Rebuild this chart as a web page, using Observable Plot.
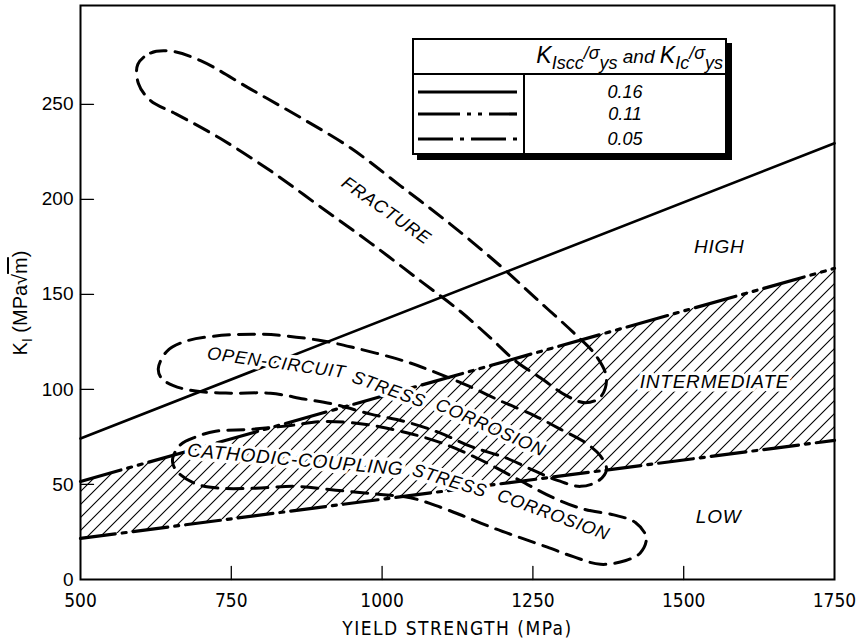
<!DOCTYPE html>
<html>
<head>
<meta charset="utf-8">
<script src="https://cdn.jsdelivr.net/npm/d3@7"></script>
<script src="https://cdn.jsdelivr.net/npm/@observablehq/plot@0.6"></script>
<style>
  html, body { margin: 0; padding: 0; background: #fff; }
  #wrap { position: relative; width: 858px; height: 638px; overflow: hidden; }
  #wrap svg { display: block; }
  g[aria-label="x-axis tick label"] text, g[aria-label="x-axis label"] text { font-stretch: condensed; }
  g[aria-label="x-axis label"] text { letter-spacing: 1.5px; }
  .lbl text { letter-spacing: 0.8px; }
  #legend { position: absolute; left: 412px; top: 38px; width: 315px; height: 117px; box-sizing: border-box;
            border: 2px solid #000; box-shadow: 5px 5px 0 #000; background: #fff;
            font-family: "Liberation Sans", Arial, Helvetica, sans-serif; color: #000; }
  #legend .hdr { position: absolute; right: 2px; top: 2px; font-style: italic; font-size: 23px; white-space: nowrap; }
  #legend .hdr .s { font-size: 18px; position: relative; top: 6px; }
  #legend .hdr .f { font-size: 18px; position: relative; top: -4px; }
  #legend .hdr .a { font-size: 19px; }
  #legend .sep { position: absolute; left: 0; right: 0; top: 33px; height: 2px; background: #000; }
  #legend .div { position: absolute; left: 109px; top: 35px; bottom: 0; width: 2px; background: #000; }
  #legend .row { position: absolute; left: 0; right: 0; height: 22px; }
  #legend .row svg { position: absolute; left: 4px; top: 5px; }
  #legend .row span { position: absolute; left: 111px; right: 0; text-align: center; top: 0; font-style: italic; font-size: 18px; line-height: 22px; }
</style>
</head>
<body>
<div id="wrap"></div>
<script>
// ---------- data ----------
const xDomain = [500, 1750];
const yDomain = [0, 302];
const xTicks = [500, 750, 1000, 1250, 1500, 1750];
const yTicks = [0, 50, 100, 150, 200, 250];

const ratioLabels = ["0.16", "0.11", "0.05"];

// straight boundary lines (yield strength -> K_I)
const lineX = [500, 1750];
const line016 = [74.2, 229.5];
const line011 = [51.6, 163.7];
const line005 = [21.6, 73.2];

// dashed regions (closed curves)
const fractureX = [595, 616, 649, 699, 782, 865, 948, 1031, 1113, 1196, 1258, 1317, 1354, 1372, 1362, 1337, 1304, 1263, 1221, 1180, 1130, 1064, 981, 898, 815, 732, 658, 616, 596];
const fractureY = [271, 277, 278, 273, 258, 243, 227, 207, 187, 165, 147, 130, 118, 106, 96, 93, 97, 106, 115, 127, 141, 157, 177, 196, 215, 232, 245, 252, 261];

const openX = [629, 643, 671, 721, 803, 893, 953, 1036, 1080, 1142, 1196, 1254, 1296, 1337, 1362, 1372, 1359, 1329, 1292, 1254, 1205, 1147, 1097, 1039, 981, 923, 870, 815, 749, 694, 654, 634];
const openY = [111, 120, 125, 128, 129, 126, 122, 115, 110, 102, 94, 86, 79, 72, 65, 58, 52, 49, 52, 57, 64, 70, 77, 83, 87, 92, 95, 98, 98, 99, 102, 106];

const cathX = [653, 666, 691, 724, 782, 848, 898, 964, 1031, 1097, 1163, 1229, 1284, 1334, 1384, 1420, 1438, 1428, 1404, 1362, 1317, 1274, 1229, 1185, 1138, 1097, 1047, 989, 923, 856, 790, 732, 694, 666, 654];
const cathY = [64, 71, 75, 78, 79, 81, 83, 82, 78, 72, 63, 52, 43, 37, 34, 30, 22, 14, 10, 8, 12, 17, 22, 27, 33, 38, 43, 45, 47, 49, 48, 48, 50, 55, 60];

// text annotations
const labelText = ["FRACTURE", "HIGH", "INTERMEDIATE", "LOW", "OPEN-CIRCUIT", "STRESS", "CORROSION", "CATHODIC-COUPLING", "STRESS", "CORROSION"];
const labelX = [1007, 1559, 1551, 1558, 825, 1011, 1180, 856, 1112, 1284];
const labelY = [194, 175, 104, 33, 114, 100, 80, 63, 52, 34];

// ---------- build ----------
const rows = (xs, ys) => xs.map((x, i) => ({x, y: ys[i]}));
const band = lineX.map((x, i) => ({x, lo: line005[i], hi: line011[i]}));

const dash011 = "42,7,4,7,4,7";
const dash005 = "35,7,4,7";
const loopDash = "16,9";

const labelRotate = [35, 0, 0, 0, 8, 20, 24, 5, 17, 20];
const labelSize = [18, 19, 19, 19, 18, 18, 18, 19, 18, 18];

const tickShape = {draw(ctx, l) { ctx.moveTo(0, 0); ctx.lineTo(0, -l); }};
const sans = "'Liberation Sans', Arial, Helvetica, sans-serif";
const narrow = "'Liberation Sans Narrow', 'DejaVu Sans', sans-serif";

const labelMarks = labelText.map((t, i) => Plot.text([i], {
  x: d => labelX[d], y: d => labelY[d], text: d => labelText[d],
  rotate: labelRotate[i], fontSize: labelSize[i], fontStyle: "italic", fontFamily: sans,
  fill: "#000", stroke: "#fff", strokeWidth: 7, paintOrder: "stroke", textAnchor: "middle"
}));

const svg = Plot.plot({
  width: 858,
  height: 638,
  marginLeft: 80,
  marginRight: 24,
  marginTop: 5,
  marginBottom: 59,
  style: {background: "#fff", color: "#000", fontFamily: sans, overflow: "visible"},
  x: {domain: xDomain, ticks: xTicks},
  y: {domain: yDomain, ticks: yTicks},
  marks: [
    Plot.areaY(band, {x: "x", y1: "lo", y2: "hi", fill: "url(#hatch)"}),
    Plot.line(rows(lineX, line016), {x: "x", y: "y", stroke: "#000", strokeWidth: 2.6}),
    Plot.line(rows(lineX, line011), {x: "x", y: "y", stroke: "#000", strokeWidth: 3.2, strokeDasharray: dash011}),
    Plot.line(rows(lineX, line005), {x: "x", y: "y", stroke: "#000", strokeWidth: 3.2, strokeDasharray: dash005}),
    Plot.line(rows(fractureX, fractureY), {x: "x", y: "y", curve: "catmull-rom-closed", stroke: "#000", strokeWidth: 3, strokeDasharray: loopDash}),
    Plot.line(rows(openX, openY), {x: "x", y: "y", curve: "catmull-rom-closed", stroke: "#000", strokeWidth: 3, strokeDasharray: loopDash}),
    Plot.line(rows(cathX, cathY), {x: "x", y: "y", curve: "catmull-rom-closed", stroke: "#000", strokeWidth: 3, strokeDasharray: loopDash}),
    ...labelMarks,
    Plot.frame({stroke: "#000", strokeWidth: 2}),
    Plot.vector(xTicks.slice(1, -1), {x: d => d, y: () => yDomain[0], length: 13, rotate: 0, anchor: "start", shape: tickShape, stroke: "#000", strokeWidth: 1.3}),
    Plot.vector(yTicks.slice(1), {x: () => xDomain[0], y: d => d, length: 13, rotate: 90, anchor: "start", shape: tickShape, stroke: "#000", strokeWidth: 1.3}),
    Plot.axisX(xTicks, {tickSize: 0, tickPadding: 14, fontSize: 19, fontFamily: narrow, tickFormat: d => String(d),
      label: "YIELD STRENGTH (MPa)", labelAnchor: "center", labelOffset: 55, labelArrow: "none"}),
    Plot.axisY(yTicks, {tickSize: 0, tickPadding: 7, fontSize: 19, fontFamily: sans, label: null})
  ]
});

// hatch pattern used by the band between the 0.05 and 0.11 lines
const defs = d3.select(svg).insert("defs", ":first-child");
const pat = defs.append("pattern").attr("id", "hatch").attr("patternUnits", "userSpaceOnUse")
  .attr("width", 13).attr("height", 13);
pat.append("path").attr("d", "M-3,3 L3,-3 M0,13 L13,0 M10,16 L16,10")
  .attr("stroke", "#000").attr("stroke-width", 1.1).attr("fill", "none");

// label text groups get letter spacing
d3.select(svg).selectAll('g[aria-label="text"]').classed("lbl", true);

// y-axis title with subscript and radical
const yl = d3.select(svg).append("text")
  .attr("transform", "translate(27,303) rotate(-90)")
  .attr("text-anchor", "middle").attr("font-size", 20).attr("font-family", sans).attr("fill", "#000");
yl.append("tspan").text("K");
yl.append("tspan").attr("font-size", 14).attr("dy", 5).text("I");
yl.append("tspan").attr("dy", -5).text(" (MPa");
yl.append("tspan").text("\u221A");
yl.append("tspan").attr("text-decoration", "overline").text("m");
yl.append("tspan").text(")");

const wrap = document.getElementById("wrap");
wrap.appendChild(svg);

// legend box
const legendDash = [null, dash011, dash005];
const lg = document.createElement("div");
lg.id = "legend";
lg.innerHTML =
  '<div class="hdr">K<span class="s">Iscc</span><span class="f">/\u03C3</span><span class="s">ys</span>' +
  '<span class="a"> and </span>K<span class="s">Ic</span><span class="f">/\u03C3</span><span class="s">ys</span></div>' +
  '<div class="sep"></div><div class="div"></div>';
const rowTops = [41, 63, 88];
ratioLabels.forEach((r, i) => {
  const row = document.createElement("div");
  row.className = "row";
  row.style.top = rowTops[i] + "px";
  row.innerHTML = '<svg width="100" height="12"><line x1="0" y1="6" x2="99" y2="6" stroke="#000" stroke-width="3.2"' +
    (legendDash[i] ? ' stroke-dasharray="' + legendDash[i] + '"' : '') + '/></svg><span>' + r + '</span>';
  lg.appendChild(row);
});
wrap.appendChild(lg);
</script>
</body>
</html>
